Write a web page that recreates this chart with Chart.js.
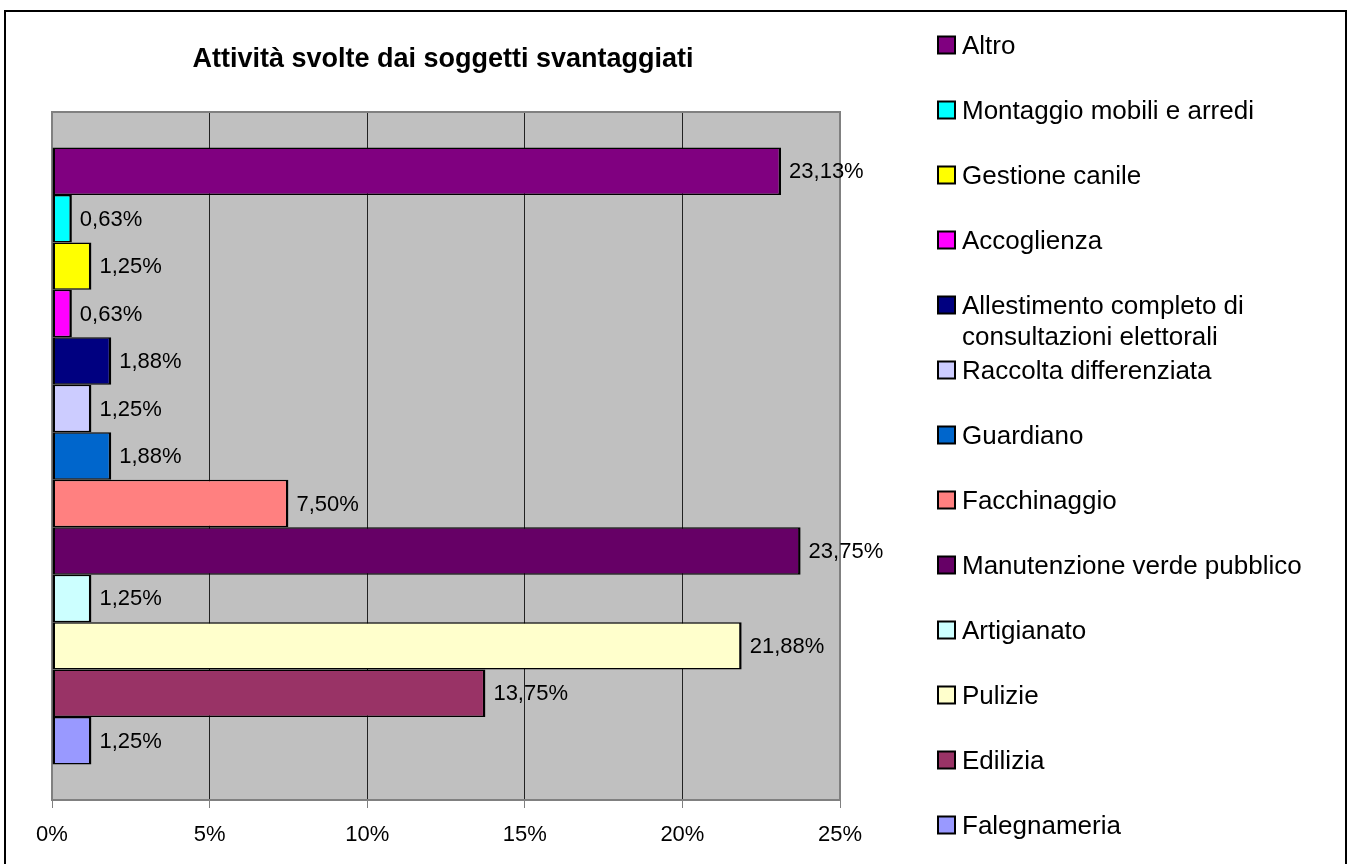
<!DOCTYPE html>
<html>
<head>
<meta charset="utf-8">
<script src="https://cdn.jsdelivr.net/npm/chart.js@4.4.1/dist/chart.umd.min.js"></script>
<style>
  html, body { margin: 0; padding: 0; background: #fff; overflow: hidden; width: 1351px; height: 864px; }
  #wrap { position: relative; width: 1351px; height: 864px; }
  #c { position: absolute; left: 0; top: 0; }
  #frame { position: absolute; left: 4px; top: 10px; width: 1339px; height: 900px; border: 2px solid #000; pointer-events: none; }
</style>
</head>
<body>
<div id="wrap">
  <canvas id="c" width="1351" height="864"></canvas>
  <div id="frame"></div>
</div>
<script>
// ---- data ----
const titleText = 'Attività svolte dai soggetti svantaggiati';
const categories = [
  'Altro',
  'Montaggio mobili e arredi',
  'Gestione canile',
  'Accoglienza',
  'Allestimento completo di consultazioni elettorali',
  'Raccolta differenziata',
  'Guardiano',
  'Facchinaggio',
  'Manutenzione verde pubblico',
  'Artigianato',
  'Pulizie',
  'Edilizia',
  'Falegnameria'
];
const values = [23.13, 0.63, 1.25, 0.63, 1.88, 1.25, 1.88, 7.50, 23.75, 1.25, 21.88, 13.75, 1.25];
const colors = ['#800080', '#00FFFF', '#FFFF00', '#FF00FF', '#000080', '#CCCCFF', '#0066CC',
                '#FF8080', '#660066', '#CCFFFF', '#FFFFCC', '#993366', '#9999FF'];
const xTicks = [0, 5, 10, 15, 20, 25];

const FONT = "'Liberation Sans', Arial, Helvetica, sans-serif";
Chart.defaults.font.family = FONT;
Chart.defaults.color = '#000';

const fmt = v => v.toFixed(2).replace('.', ',') + '%';

const decorPlugin = {
  id: 'decor',
  beforeDraw(chart) {
    const { ctx, chartArea: a } = chart;
    ctx.save();
    ctx.fillStyle = '#fff';
    ctx.fillRect(0, 0, chart.width, chart.height);
    ctx.fillStyle = '#C0C0C0';
    ctx.fillRect(a.left, a.top, a.right - a.left, a.bottom - a.top);
    ctx.restore();
  },
  beforeDatasetsDraw(chart) {
    const { ctx, chartArea: a } = chart;
    ctx.save();
    ctx.strokeStyle = '#808080';
    ctx.lineWidth = 2;
    ctx.strokeRect(a.left, a.top, a.right - a.left, a.bottom - a.top);
    ctx.restore();
  },
  afterDatasetsDraw(chart) {
    const { ctx } = chart;
    ctx.save();
    ctx.font = '22px ' + FONT;
    ctx.fillStyle = '#000';
    ctx.textAlign = 'left';
    ctx.textBaseline = 'middle';
    chart.data.datasets.forEach((ds, i) => {
      const meta = chart.getDatasetMeta(i);
      meta.data.forEach((el, j) => {
        ctx.fillText(fmt(ds.data[j]), el.x + 8, el.y + 1);
      });
    });
    ctx.restore();
  },
  afterDraw(chart) {
    const { ctx } = chart;
    ctx.save();
    // title
    ctx.font = 'bold 27px ' + FONT;
    ctx.fillStyle = '#000';
    ctx.textAlign = 'center';
    ctx.textBaseline = 'alphabetic';
    ctx.fillText(titleText, 443, 67);
    // legend
    ctx.font = '26px ' + FONT;
    ctx.textAlign = 'left';
    const step = 65;
    chart.data.datasets.forEach((ds, i) => {
      const base = 54 + step * i;
      ctx.fillStyle = ds.backgroundColor;
      ctx.fillRect(938, base - 17.5, 17, 17);
      ctx.strokeStyle = '#000';
      ctx.lineWidth = 2;
      ctx.strokeRect(938, base - 17.5, 17, 17);
      // wrap
      const words = ds.label.split(' ');
      const lines = [];
      let cur = '';
      words.forEach(w => {
        const t = cur ? cur + ' ' + w : w;
        if (ctx.measureText(t).width > 380 && cur) { lines.push(cur); cur = w; } else { cur = t; }
      });
      lines.push(cur);
      ctx.fillStyle = '#000';
      lines.forEach((ln, k) => ctx.fillText(ln, 962, base + k * 30.5));
    });
    ctx.restore();
  }
};

new Chart(document.getElementById('c'), {
  type: 'bar',
  data: {
    labels: [''],
    datasets: categories.map((name, i) => ({
      label: name,
      data: [values[i]],
      backgroundColor: colors[i],
      borderColor: '#000',
      borderWidth: { top: 1.5, bottom: 1.5, left: 2.5, right: 2.5 },
      borderSkipped: false,
      categoryPercentage: 0.897,
      barPercentage: 1.0
    }))
  },
  options: {
    indexAxis: 'y',
    responsive: false,
    animation: false,
    events: [],
    layout: { padding: { left: 52, right: 511, top: 112, bottom: 0 } },
    plugins: { legend: { display: false }, title: { display: false }, tooltip: { enabled: false } },
    scales: {
      x: {
        min: 0, max: 25,
        afterBuildTicks: s => { s.ticks = xTicks.map(v => ({ value: v })); },
        afterFit: s => { s.height = 64; },
        grid: {
          color: c => (c.tick && (c.tick.value === 0 || c.tick.value === 25)) ? 'rgba(0,0,0,0)' : '#222',
          lineWidth: 1,
          tickColor: '#808080',
          tickLength: 8,
          drawTicks: true
        },
        border: { display: false },
        ticks: {
          callback: v => v + '%',
          font: { size: 22 },
          color: '#000',
          padding: 14,
          maxRotation: 0
        }
      },
      y: {
        display: false,
        grid: { display: false }
      }
    }
  },
  plugins: [decorPlugin]
});
</script>
</body>
</html>
